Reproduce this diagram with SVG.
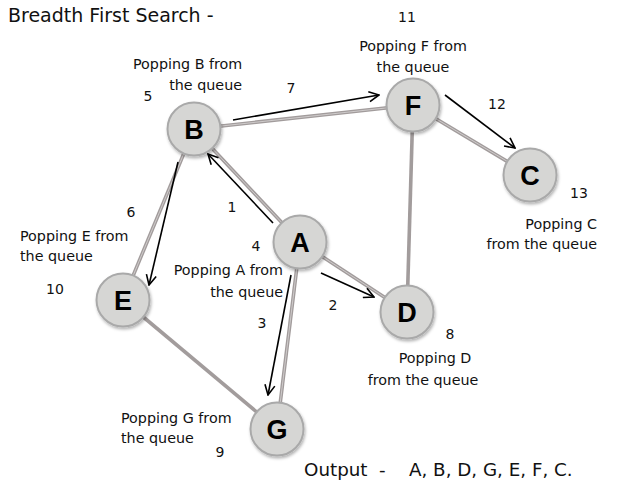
<svg xmlns="http://www.w3.org/2000/svg" width="633" height="503" viewBox="0 0 633 503">
<style>
text{font-family:"DejaVu Sans","Liberation Sans",sans-serif;fill:#111}
.lbl{font-size:14.3px}
.num{font-size:14px}
.big{font-size:19px}
.out{font-size:18.3px}
.nl{font-family:"Liberation Sans",Arial,sans-serif;font-size:27px;font-weight:bold;text-anchor:middle;fill:#000}
.e1{stroke:#a29c9c;stroke-width:3.6;fill:none}
.e2{stroke:#d4d0d0;stroke-width:0.9;fill:none}
.ar{stroke:#000;stroke-width:1.6;fill:none;marker-end:url(#ah)}
.nd{fill:#d6d6d4;stroke:#a9a9a9;stroke-width:2;filter:url(#sh)}
</style>
<defs>
<marker id="ah" viewBox="0 0 12 12" refX="11" refY="6" markerWidth="12" markerHeight="12" markerUnits="userSpaceOnUse" orient="auto">
<path d="M1,1 L11,6 L1,11" fill="none" stroke="#000" stroke-width="1.6"/>
</marker>
<filter id="sh" x="-30%" y="-30%" width="160%" height="160%">
<feDropShadow dx="1" dy="2" stdDeviation="1.5" flood-color="#000" flood-opacity="0.3"/>
</filter>
</defs>
<rect width="633" height="503" fill="#fff"/>
<g id="edges">
<g>
<line class="e1" x1="194" y1="129" x2="413" y2="105"/>
<line class="e1" x1="194" y1="129" x2="300" y2="242"/>
<line class="e1" x1="194" y1="129" x2="123" y2="300"/>
<line class="e1" x1="300" y1="242" x2="407" y2="312"/>
<line class="e1" x1="300" y1="242" x2="277" y2="429"/>
<line class="e1" x1="413" y1="105" x2="407" y2="312"/>
<line class="e1" x1="413" y1="105" x2="530" y2="175"/>
<line class="e1" x1="123" y1="300" x2="277" y2="429"/>
<line class="e2" x1="194" y1="129" x2="413" y2="105"/>
<line class="e2" x1="194" y1="129" x2="300" y2="242"/>
<line class="e2" x1="194" y1="129" x2="123" y2="300"/>
<line class="e2" x1="300" y1="242" x2="407" y2="312"/>
<line class="e2" x1="300" y1="242" x2="277" y2="429"/>
<line class="e2" x1="413" y1="105" x2="530" y2="175"/>
</g>
<g>
<line class="ar" x1="273" y1="223" x2="208" y2="154"/>
<line class="ar" x1="233" y1="120" x2="379" y2="95"/>
<line class="ar" x1="445" y1="95" x2="515" y2="148"/>
<line class="ar" x1="321" y1="273" x2="374" y2="297"/>
<line class="ar" x1="291" y1="275" x2="268" y2="395"/>
<line class="ar" x1="178" y1="162" x2="149" y2="285"/>
</g>
</g>
<g id="node-B"><circle class="nd" cx="194" cy="129" r="26.5"/><text class="nl" x="194" y="139">B</text></g>
<g id="node-F"><circle class="nd" cx="413" cy="105" r="26.5"/><text class="nl" x="413" y="115">F</text></g>
<g id="node-C"><circle class="nd" cx="530" cy="175" r="26.5"/><text class="nl" x="530" y="185">C</text></g>
<g id="node-A"><circle class="nd" cx="300" cy="242" r="26.5"/><text class="nl" x="300" y="252">A</text></g>
<g id="node-D"><circle class="nd" cx="407" cy="312" r="26.5"/><text class="nl" x="407" y="322">D</text></g>
<g id="node-E"><circle class="nd" cx="123" cy="300" r="26.5"/><text class="nl" x="123" y="310">E</text></g>
<g id="node-G"><circle class="nd" cx="277" cy="429" r="26.5"/><text class="nl" x="277" y="439">G</text></g>
<g id="labels">
<text class="big" x="8" y="22">Breadth First Search -</text>
<text class="num" x="407" y="22" text-anchor="middle">11</text>
<text class="lbl" x="413" y="51" text-anchor="middle">Popping F from</text>
<text class="lbl" x="413" y="72" text-anchor="middle">the queue</text>
<text class="lbl" x="133" y="69">Popping B from</text>
<text class="lbl" x="242" y="90" text-anchor="end">the queue</text>
<text class="num" x="148" y="101" text-anchor="middle">5</text>
<text class="num" x="291" y="93" text-anchor="middle">7</text>
<text class="num" x="497" y="109" text-anchor="middle">12</text>
<text class="num" x="579" y="198" text-anchor="middle">13</text>
<text class="lbl" x="597" y="229" text-anchor="end">Popping C</text>
<text class="lbl" x="597" y="249" text-anchor="end">from the queue</text>
<text class="num" x="131" y="217" text-anchor="middle">6</text>
<text class="num" x="232" y="212" text-anchor="middle">1</text>
<text class="lbl" x="20" y="241">Popping E from</text>
<text class="lbl" x="20" y="261">the queue</text>
<text class="num" x="256" y="251" text-anchor="middle">4</text>
<text class="num" x="55" y="294" text-anchor="middle">10</text>
<text class="lbl" x="283" y="275" text-anchor="end">Popping A from</text>
<text class="lbl" x="283" y="297" text-anchor="end">the queue</text>
<text class="num" x="333" y="310" text-anchor="middle">2</text>
<text class="num" x="262" y="328" text-anchor="middle">3</text>
<text class="num" x="450" y="339" text-anchor="middle">8</text>
<text class="lbl" x="435" y="363" text-anchor="middle">Popping D</text>
<text class="lbl" x="423" y="385" text-anchor="middle">from the queue</text>
<text class="lbl" x="121" y="423">Popping G from</text>
<text class="lbl" x="121" y="443">the queue</text>
<text class="num" x="220" y="457" text-anchor="middle">9</text>
<text class="out" x="304" y="476" xml:space="preserve">Output  -    A, B, D, G, E, F, C.</text>
</g>
</svg>
